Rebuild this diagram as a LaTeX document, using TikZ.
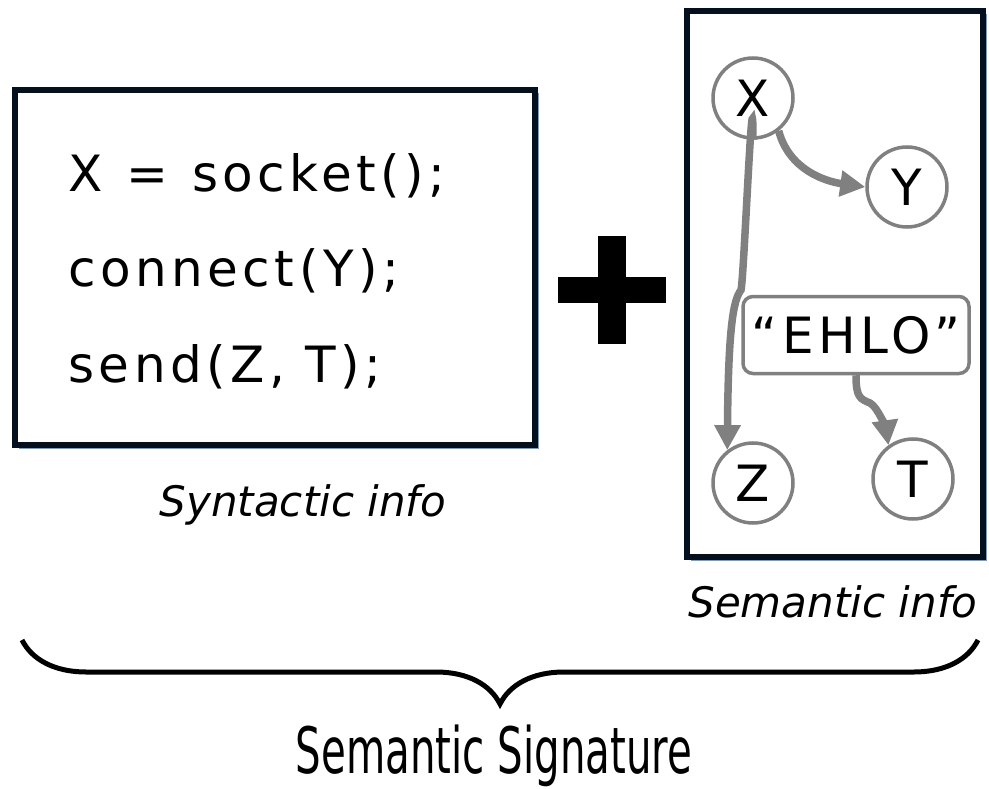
\documentclass[tikz,border=0pt]{standalone}
\usepackage{fontspec}
\setmainfont{DejaVu Sans}
\newfontfamily\codefont[LetterSpace=9]{DejaVu Sans}
\newfontfamily\sigfont[FakeStretch=0.63]{DejaVu Sans}
\usetikzlibrary{arrows.meta,shadows,decorations.pathreplacing}

\definecolor{shadowblue}{HTML}{6F9FD8}
\definecolor{linegray}{HTML}{808080}
\definecolor{framenavy}{HTML}{05101F}

\tikzset{
  frame/.style={draw=framenavy, line width=6pt, fill=white, inner sep=0pt,
    drop shadow={shadow xshift=3.5pt, shadow yshift=-3.5pt, fill=shadowblue, opacity=1}},
  code/.style={anchor=base west, inner sep=0pt, font=\codefont\fontsize{50}{50}\selectfont},
  var/.style={circle, draw=linegray, line width=3.5pt, fill=white, minimum size=80pt,
    inner sep=0pt, font=\fontsize{50}{50}\selectfont},
  const/.style={rectangle, rounded corners=10pt, draw=linegray, line width=3.5pt,
    minimum width=226pt, minimum height=77pt, inner sep=0pt,
    font=\codefont\fontsize{50}{50}\selectfont},
  flow/.style={draw=linegray, line width=7.5pt, -{Triangle[length=25pt,width=25pt]}},
  caption/.style={anchor=base, inner sep=0pt, font=\itshape\fontsize{42}{42}\selectfont},
  sigbrace/.style={decorate, decoration={brace, amplitude=64pt}, line width=5pt}
}

\begin{document}
\begin{tikzpicture}[x=1pt, y=-1pt]

\useasboundingbox (0,0) rectangle (989,789);

% syntactic part
\node [frame, minimum width=520pt, minimum height=355pt] (syntax) at (275,267.5) {};

\foreach \l [count=\i] in {{X\hspace{24pt}=\hspace{24pt}socket();}, {connect(Y);}, {send(Z, T);}}
  \node [code] (line-\i) at (68,97+95*\i) {\l};

\node [caption] (syntax-label) at (303,516) {Syntactic info};

% plus sign
\fill (598,236) rectangle (626,344);
\fill (558,277) rectangle (666,303);

% semantic part
\node [frame, minimum width=296pt, minimum height=546pt] (semantic) at (835,284) {};

\node [var] (X) at (753,98) {X};
\node [var] (Y) at (907,187) {Y};
\node [var] (Z) at (753,483) {Z};
\node [var] (T) at (913,479) {T};
\node [const] (EHLO) at (856,335) {“EHLO”};

\coordinate (bend-z) at (741,290);
\coordinate (bend-t) at (870,403);

\draw [flow] (X.-52) to [out=-75, in=172] (Y.west);
\draw [flow] (X.south) .. controls +(0,-90) and +(3,-12) .. (bend-z)
  .. controls +(-8,10) and +(1,-120) .. (Z.128);
\draw [flow] (EHLO.south) .. controls +(0,22) and +(-10,-4) .. (bend-t)
  .. controls +(8,4) and +(-2,-14) .. (T.126);

\node [caption] (semantic-label) at (833,617) {Semantic info};

% signature
\draw [sigbrace] (978,640) -- (22,640);
\node [anchor=base, inner sep=0pt, font=\sigfont\fontsize{64}{64}\selectfont] (signature) at (494,773) {Semantic Signature};

\end{tikzpicture}
\end{document}
